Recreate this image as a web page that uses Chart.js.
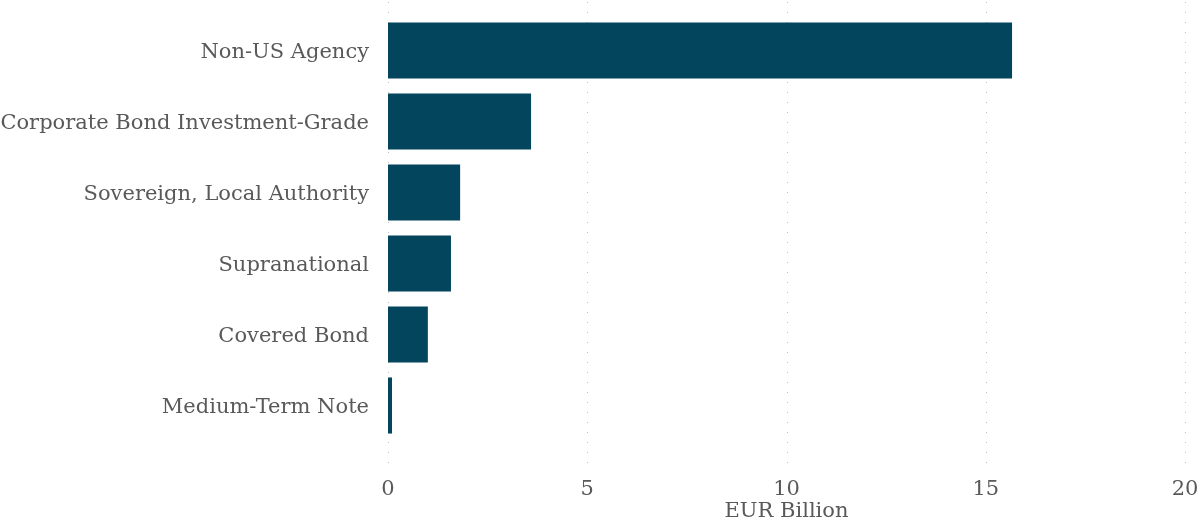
<!DOCTYPE html>
<html>
<head>
<meta charset="utf-8">
<title>Issuance by sector</title>
<script src="https://cdn.jsdelivr.net/npm/chart.js@4.4.1/dist/chart.umd.min.js"></script>
<style>
  html, body { margin: 0; padding: 0; background: #fff; }
  #wrap { width: 1197px; height: 528px; position: relative; }
</style>
</head>
<body>
<div id="wrap"><canvas id="sectorChart"></canvas></div>
<script>
// Sectors and volumes (EUR billion)
const sectores = [
  "Non-US Agency",
  "Corporate Bond Investment-Grade",
  "Sovereign, Local Authority",
  "Supranational",
  "Covered Bond",
  "Medium-Term Note"
];
const volumenes = [15.66, 3.59, 1.81, 1.58, 1.0, 0.1];
const ticksX = [0, 5, 10, 15, 20];

const colorBarra = "#03455c";
const colorTexto = "#595959";
const fuente = "'DejaVu Serif', 'Liberation Serif', serif";

// Dotted vertical grid that runs a little beyond the bars
const rejillaPunteada = {
  id: "rejillaPunteada",
  beforeDatasetsDraw(chart) {
    const ctx = chart.ctx;
    const area = chart.chartArea;
    const x = chart.scales.x;
    const desde = Math.round(area.top) - 13;
    const hasta = Math.round(area.bottom) + 24;
    ctx.save();
    ctx.fillStyle = "#bfbfbf";
    ticksX.forEach((t) => {
      const px = Math.round(x.getPixelForValue(t));
      for (let y = desde; y <= hasta; y += 10) {
        ctx.fillRect(px, y, 1, 1);
      }
    });
    ctx.restore();
  }
};

const ctx = document.getElementById("sectorChart").getContext("2d");
new Chart(ctx, {
  type: "bar",
  data: {
    labels: sectores,
    datasets: [
      {
        data: volumenes,
        backgroundColor: colorBarra,
        barPercentage: 0.79,
        categoryPercentage: 1.0
      }
    ]
  },
  options: {
    indexAxis: "y",
    responsive: true,
    maintainAspectRatio: false,
    animation: false,
    events: [],
    layout: { padding: { top: 15, right: 12, bottom: 4, left: 0 } },
    plugins: {
      legend: { display: false },
      tooltip: { enabled: false }
    },
    scales: {
      x: {
        min: 0,
        max: 20,
        afterBuildTicks: (scale) => {
          scale.ticks = ticksX.map((v) => ({ value: v }));
        },
        afterFit: (scale) => {
          scale.height = 83;
          scale.paddingLeft = 0;
          scale.paddingRight = 0;
        },
        grid: { display: false, drawTicks: false },
        border: { display: false },
        ticks: {
          color: colorTexto,
          padding: 36,
          maxRotation: 0,
          font: { family: fuente, size: 21 }
        },
        title: {
          display: true,
          text: "EUR Billion",
          color: colorTexto,
          padding: { top: 0, bottom: 0 },
          font: { family: fuente, size: 21 }
        }
      },
      y: {
        afterFit: (scale) => {
          scale.width = 388;
          scale.paddingTop = 0;
          scale.paddingBottom = 0;
        },
        grid: { display: false, drawTicks: false },
        border: { display: false },
        ticks: {
          color: colorTexto,
          padding: 19,
          labelOffset: 2,
          font: { family: fuente, size: 21 }
        }
      }
    }
  },
  plugins: [rejillaPunteada]
});
</script>
</body>
</html>
